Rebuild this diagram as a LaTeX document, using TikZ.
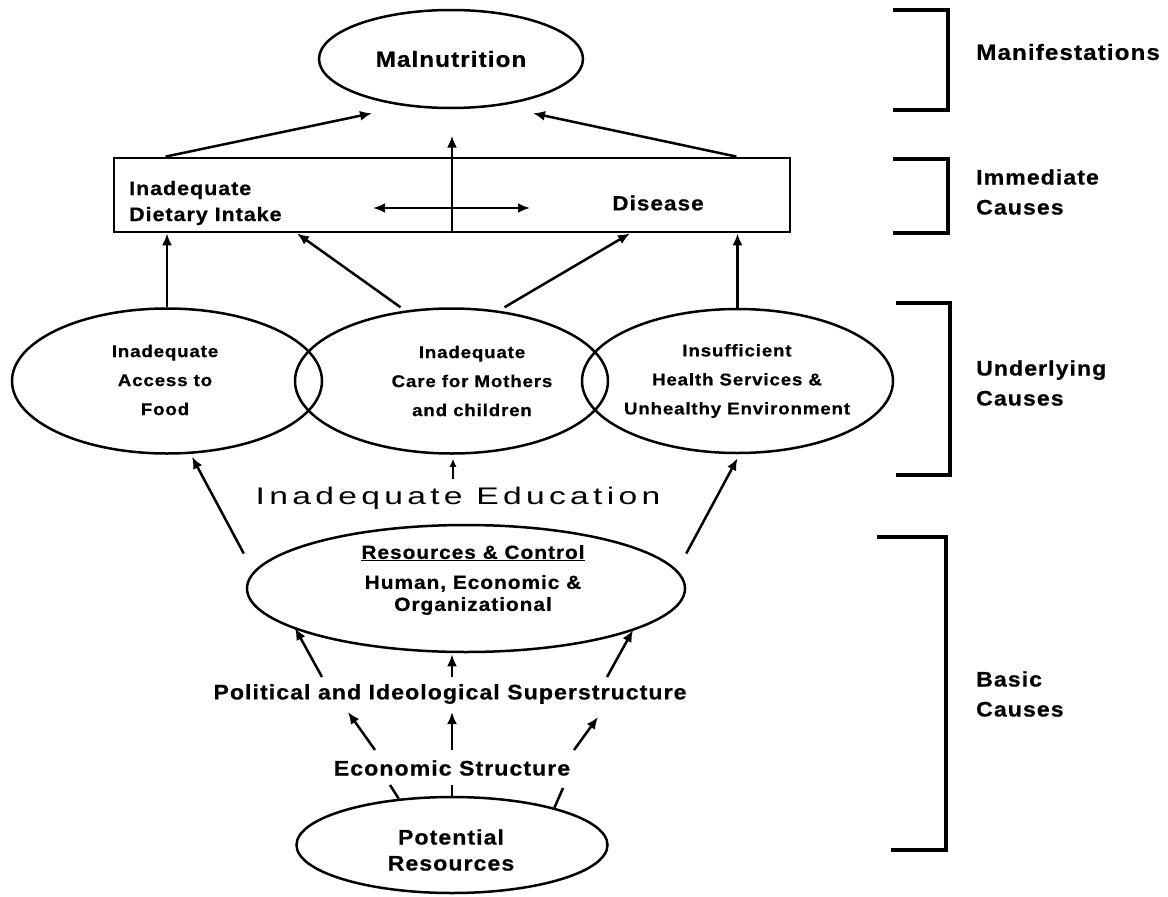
\documentclass[tikz,border=0pt]{standalone}
\usepackage{fontspec}
\setmainfont{Liberation Sans}[FakeStretch=1.1,LetterSpace=5,FakeBold=0.6]
\newfontfamily\edufont{Liberation Sans}[FakeStretch=1.4,LetterSpace=18]
\usetikzlibrary{shapes.geometric,arrows.meta,positioning}

\begin{document}
\begin{tikzpicture}[x=1pt, y=-1pt,
    oval/.style={draw, ellipse, line width=2.5pt, inner sep=0pt},
    lbl/.style={inner sep=0pt, align=center, font=\bfseries\fontsize{17}{29}\selectfont},
    side/.style={inner sep=0pt, anchor=west, align=left, font=\bfseries\fontsize{21}{30}\selectfont},
    arr/.style={line width=2.5pt, -{Latex[length=12pt,width=10pt]}},
    dbl/.style={line width=2.5pt, {Latex[length=12pt,width=10pt]}-{Latex[length=12pt,width=10pt]}},
    brace/.style={line width=3.5pt}]

    \fill[white] (0,0) rectangle (1168,897);

    \node[oval, minimum width=264pt, minimum height=98pt, font=\bfseries\fontsize{22}{26}\selectfont] (mal) at (451,59) {Malnutrition};

    \node[draw, line width=2.8pt, inner sep=0pt, minimum width=676pt, minimum height=74pt] (box) at (452,195) {};
    \node[lbl, align=left, anchor=west, font=\bfseries\fontsize{19.5}{26}\selectfont] (intake) at (129,203) {Inadequate\\Dietary Intake};
    \node[lbl, font=\bfseries\fontsize{20.5}{26}\selectfont] (disease) at (658,203) {Disease};

    \node[oval, minimum width=310pt, minimum height=145pt] (food) at (167,381) {};
    \node[oval, minimum width=313pt, minimum height=145pt] (care) at (451.5,381) {};
    \node[oval, minimum width=311pt, minimum height=144pt] (health) at (737.5,381) {};
    \node[lbl] (foodtxt) at (165,380) {Inadequate\\Access to\\Food};
    \node[lbl] (caretxt) at (472,381) {Inadequate\\Care for Mothers\\and children};
    \node[lbl] (healthtxt) at (737,381) {Insufficient\\Health Services \&\\Unhealthy Environment};

    \node[inner sep=0pt, font=\edufont\fontsize{24}{28}\selectfont] (edu) at (458,498) {Inadequate Education};

    \node[oval, minimum width=438pt, minimum height=127pt] (rc) at (466,588.5) {};
    \node[lbl, font=\bfseries\fontsize{19}{22}\selectfont] (rctxt) at (473,580) {\underline{Resources \& Control}\\[8pt]Human, Economic \&\\Organizational};

    \node[lbl, font=\bfseries\fontsize{21}{25}\selectfont] (pol) at (450,694) {Political and Ideological Superstructure};
    \node[lbl, font=\bfseries\fontsize{21}{25}\selectfont] (eco) at (452,768) {Economic Structure};

    \node[oval, minimum width=311pt, minimum height=96pt] (pot) at (452,845) {};
    \node[lbl, font=\bfseries\fontsize{21}{26}\selectfont] (pottxt) at (451,850) {Potential\\Resources};

    \node[side, font=\bfseries\fontsize{22}{30}\selectfont] (manif) at (976,52) {Manifestations};
    \node[side] (immed) at (976,192) {Immediate\\Causes};
    \node[side] (under) at (976,383) {Underlying\\Causes};
    \node[side] (basic) at (976,694) {Basic\\Causes};

    \draw[brace] (893,10) -- (948,10) -- (948,110) -- (893,110);
    \draw[brace] (893,159) -- (948,159) -- (948,233) -- (893,233);
    \draw[brace] (896,303) -- (950,303) -- (950,475) -- (896,475);
    \draw[brace, line width=4.5pt] (877,537) -- (946,537) -- (946,850) -- (891,850);

    \draw[arr] ([xshift=53pt]box.north west) -- ([shift={(-79pt,-4pt)}]mal.south);
    \draw[arr] ([xshift=-55pt]box.north east) -- ([shift={(82pt,-4pt)}]mal.south);
    \draw[arr] (box.south) -- ([yshift=21pt]box.north);
    \draw[dbl] ([shift={(-79pt,-13pt)}]box.center) -- ([shift={(78pt,-13pt)}]box.center);

    \draw[arr] (food.north) -- (food.north |- box.south);
    \draw[arr] ([xshift=-51pt]care.north) -- ([xshift=-155pt]box.south);
    \draw[arr] ([xshift=53pt]care.north) -- ([xshift=178pt]box.south);
    \draw[arr] (health.north) -- (health.north |- box.south);

    \draw[arr, -{Latex[length=8pt,width=7pt]}] ([shift={(1.5pt,-24pt)}]care.south) -- ([shift={(1.5pt,-4pt)}]care.south);
    \draw[arr] ([shift={(-2pt,35pt)}]rc.west) -- ([shift={(25pt,-2pt)}]food.south);
    \draw[arr] ([yshift=35pt]rc.east) -- ([yshift=-4pt]health.south);

    \draw[arr] ([shift={(-128pt,17pt)}]pol.center) -- ([shift={(-171pt,-39.5pt)}]rc.center);
    \draw[arr] ([shift={(2pt,17pt)}]pol.center) -- ([shift={(-14pt,-1pt)}]rc.south);
    \draw[arr] ([shift={(157pt,17pt)}]pol.center) -- ([shift={(167pt,-41.5pt)}]rc.center);

    \draw[arr] ([shift={(-77pt,18pt)}]eco.center) -- ([shift={(-102pt,-18pt)}]pol.center);
    \draw[arr] ([yshift=18pt]eco.center) -- ([shift={(2pt,-18pt)}]pol.center);
    \draw[arr] ([shift={(122pt,18pt)}]eco.center) -- ([shift={(148pt,-23pt)}]pol.center);

    \draw[line width=2.5pt] (pot.139.7) -- ([shift={(-62pt,-17pt)}]eco.center);
    \draw[line width=2.5pt] (pot.north) -- ([yshift=-17pt]eco.center);
    \draw[line width=2.5pt] (pot.20.7) -- ([shift={(111pt,-20pt)}]eco.center);
\end{tikzpicture}
\end{document}
